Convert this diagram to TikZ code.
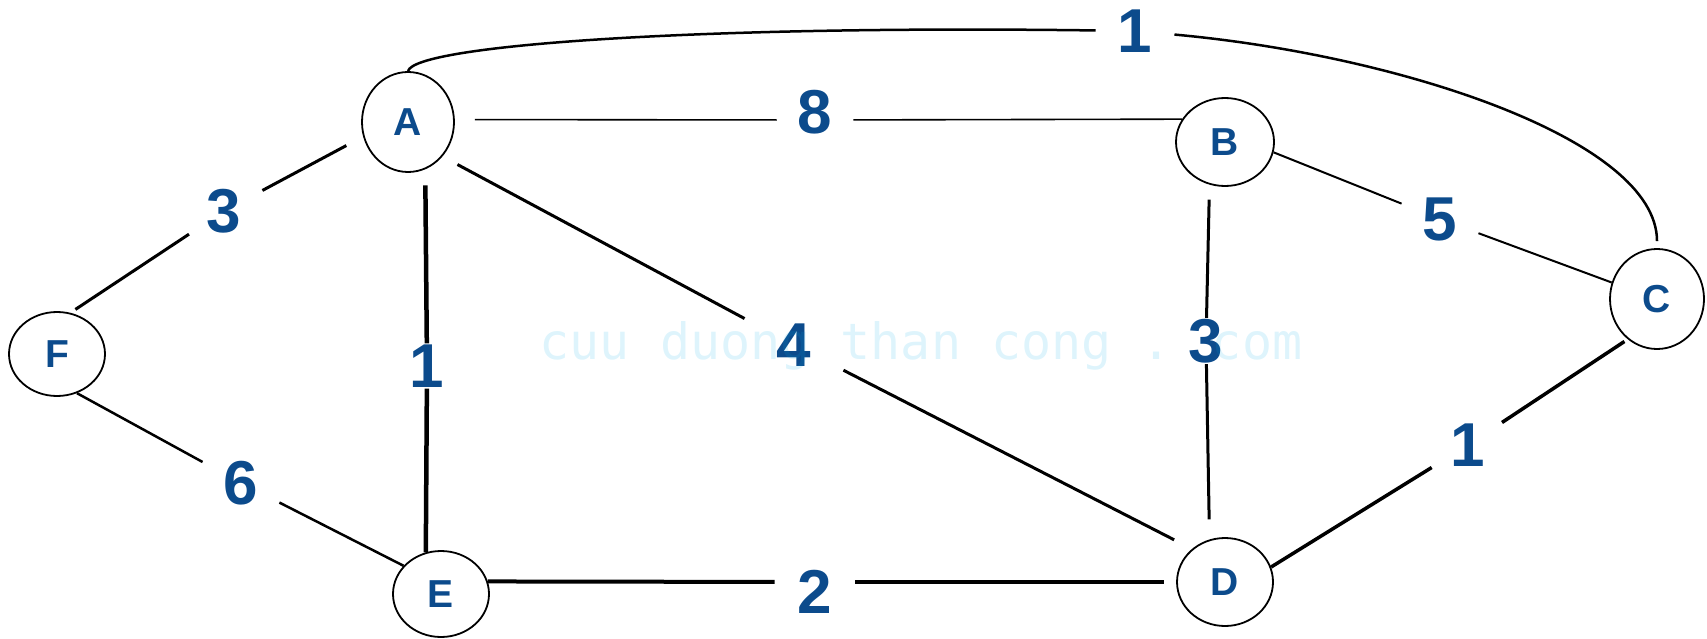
\documentclass[tikz,border=0pt]{standalone}
\usepackage{fontspec}
\setmainfont{Liberation Sans}
\newfontfamily\wmfont{DejaVu Sans Mono}
\usetikzlibrary{shapes.geometric}
\definecolor{lblue}{RGB}{12,75,140}
\definecolor{wmcol}{RGB}{0,170,230}
\tikzset{
  vtx/.style={ellipse, draw=black, line width=1.8pt, inner sep=0pt, text=lblue,
    font=\bfseries\fontsize{39}{39}\selectfont},
  wlbl/.style={inner xsep=21pt, inner ysep=1pt, text=lblue,
    font=\bfseries\fontsize{62}{62}\selectfont},
  edge/.style={draw=black, line width=#1},
}
\begin{document}
\begin{tikzpicture}[x=1pt,y=-1pt]
\useasboundingbox (0,0) rectangle (1707,639);
% vertices
\node[vtx, minimum width=92pt, minimum height=100pt] (A) at (408,122) {A};
\node[vtx, minimum width=98pt, minimum height=88pt] (B) at (1225,142) {B};
\node[vtx, minimum width=94pt, minimum height=100pt] (C) at (1657,299) {C};
\node[vtx, minimum width=96pt, minimum height=88pt] (D) at (1225,582) {D};
\node[vtx, minimum width=96pt, minimum height=86pt] (E) at (441,594) {E};
\node[vtx, minimum width=96pt, minimum height=84pt] (F) at (57,354) {F};
% weight labels
\node[wlbl, text depth=16pt] (l8) at (815,120) {8};
\node[wlbl] (l3a) at (224,211) {3};
\node[wlbl] (l1a) at (427,366) {1};
\node[wlbl, inner xsep=32pt, inner ysep=8pt] (l4) at (794,345) {4};
\node[wlbl] (l3b) at (1206,341) {3};
\node[wlbl] (l5) at (1440,219) {5};
\node[wlbl] (l1c) at (1468,445) {1};
\node[wlbl, inner xsep=23pt, text height=62pt] (l2) at (815,582) {2};
\node[wlbl] (l6) at (241,483) {6};
\node[wlbl, inner xsep=22pt] (l1t) at (1135,31) {1};
% edges
\draw[edge=1.6pt, shorten <=20pt] (A.3) -- (l8);
\draw[edge=1.6pt] (l8) -- (B.152);
\draw[edge=3pt, shorten <=19pt] (A.198) -- (l3a);
\draw[edge=3pt, shorten >=6pt] (l3a) -- (F.72);
\draw[edge=4.5pt, shorten <=16pt] (A.-70) -- (l1a);
\draw[edge=4.5pt] (l1a) -- (E.110);
\draw[edge=3pt, shorten <=17pt] (A.-45) -- (l4);
\draw[edge=3pt, shorten >=20pt] (l4) -- (D.135);
\draw[edge=3pt, shorten <=15pt] (B.-110) -- (l3b);
\draw[edge=3pt, shorten >=20pt] (l3b) -- (D.110);
\draw[edge=2pt] (B.-12) -- (l5);
\draw[edge=2pt] (l5) -- (C.160);
\draw[edge=3.5pt, shorten <=4pt] (C.234) -- (l1c);
\draw[edge=3.5pt] (l1c) -- (D.18);
\draw[edge=4pt] (E.15) -- (l2);
\draw[edge=4pt, shorten >=12pt] (l2) -- (D.west);
\draw[edge=2.5pt] (F.-63) -- (l6);
\draw[edge=2.5pt] (l6) -- (E.143);
\draw[edge=2.5pt] (A.north) .. controls (415,45) and (700,25) .. (l1t);
\draw[edge=2.5pt, shorten >=7pt] (l1t) .. controls (1400,55) and (1657,140) .. (C.north);
% watermark
\node[anchor=base, text=wmcol, text opacity=0.13, font=\wmfont\fontsize{50}{50}\selectfont] (wm) at (921,359) {cuu duong than cong . com};
\end{tikzpicture}
\end{document}
